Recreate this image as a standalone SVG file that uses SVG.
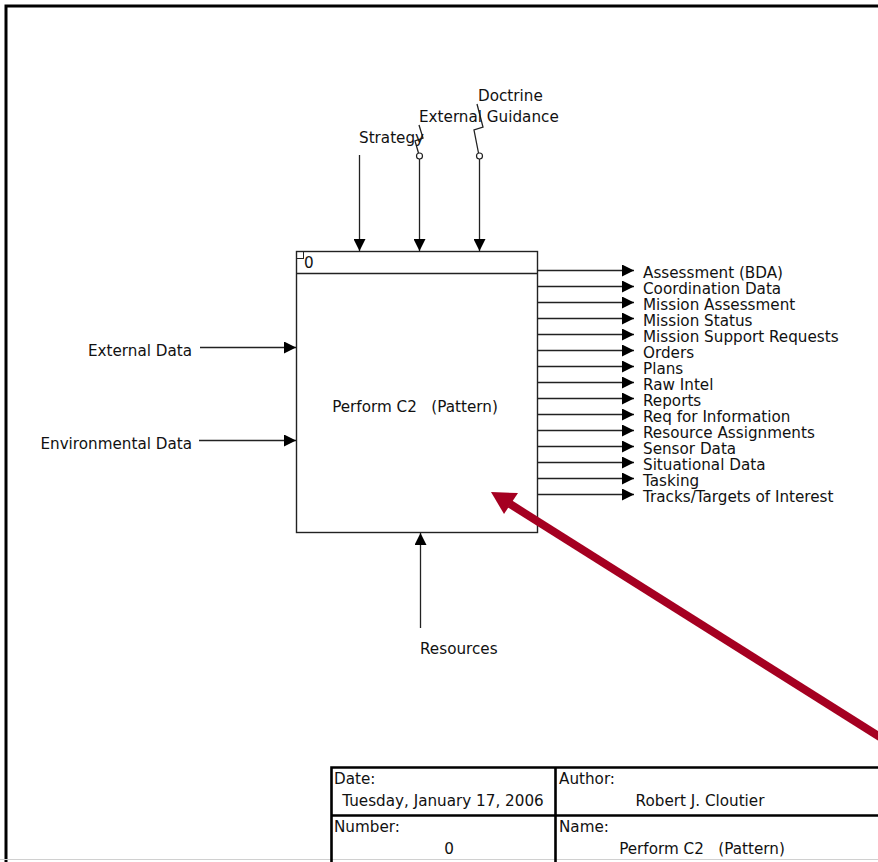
<svg xmlns="http://www.w3.org/2000/svg" width="878" height="862" viewBox="0 0 878 862">
  <defs>
    <style>
      text { font-family: "DejaVu Sans", Verdana, sans-serif; font-size: 15.2px; fill: #111; white-space: pre; }
      .ln { stroke: #222; stroke-width: 1.3; fill: none; }
      .frame { stroke: #000; stroke-width: 3; fill: none; }
      .tb { stroke: #000; stroke-width: 2.6; fill: none; }
      .head { fill: #000; }
    </style>
    <marker id="ah" viewBox="0 0 12 12" refX="12" refY="6" markerWidth="12" markerHeight="12" markerUnits="userSpaceOnUse" orient="auto">
      <path d="M0,0 L12,6 L0,12 Z" class="head"/>
    </marker>
  </defs>

  <rect width="878" height="862" fill="#fff"/>

  <!-- sheet frame -->
  <path class="frame" d="M6,862 V6 H878"/>
  <line x1="0" y1="859.5" x2="878" y2="859.5" stroke="#d0d0d0" stroke-width="1"/>

  <!-- activity box A0 -->
  <g id="node-A0">
    <rect x="296.5" y="251.5" width="241" height="281" fill="#fff" stroke="#222" stroke-width="1.4"/>
    <line x1="296.5" y1="273.5" x2="537.5" y2="273.5" stroke="#222" stroke-width="1.4"/>
    <rect x="296.5" y="251.5" width="7" height="7" fill="none" stroke="#222" stroke-width="1"/>
    <text x="304" y="268">0</text>
    <text x="415" y="412" text-anchor="middle">Perform C2   (Pattern)</text>
  </g>

  <!-- ICOM connectors -->
  <g id="connectors">
    <!-- controls -->
    <line class="ln" x1="359.5" y1="155" x2="359.5" y2="251" marker-end="url(#ah)"/>
    <line class="ln" x1="419.5" y1="159" x2="419.5" y2="251" marker-end="url(#ah)"/>
    <circle cx="419.5" cy="156" r="3" fill="#fff" stroke="#222" stroke-width="1.2"/>
    <polyline class="ln" points="418.5,153 415,141 423,138 419,125"/>
    <line class="ln" x1="479.5" y1="159" x2="479.5" y2="251" marker-end="url(#ah)"/>
    <circle cx="479.5" cy="156" r="3" fill="#fff" stroke="#222" stroke-width="1.2"/>
    <polyline class="ln" points="478.5,153 474,130 483,127 477,104"/>

    <!-- inputs -->
    <line class="ln" x1="200" y1="347.5" x2="296" y2="347.5" marker-end="url(#ah)"/>
    <line class="ln" x1="199" y1="440.5" x2="296" y2="440.5" marker-end="url(#ah)"/>

    <!-- mechanism -->
    <line class="ln" x1="420.5" y1="628" x2="420.5" y2="533" marker-end="url(#ah)"/>

    <!-- outputs -->
    <g>
      <line class="ln" x1="538" y1="270.5" x2="634" y2="270.5" marker-end="url(#ah)"/>
      <line class="ln" x1="538" y1="286.5" x2="634" y2="286.5" marker-end="url(#ah)"/>
      <line class="ln" x1="538" y1="302.5" x2="634" y2="302.5" marker-end="url(#ah)"/>
      <line class="ln" x1="538" y1="318.5" x2="634" y2="318.5" marker-end="url(#ah)"/>
      <line class="ln" x1="538" y1="334.5" x2="634" y2="334.5" marker-end="url(#ah)"/>
      <line class="ln" x1="538" y1="350.5" x2="634" y2="350.5" marker-end="url(#ah)"/>
      <line class="ln" x1="538" y1="366.5" x2="634" y2="366.5" marker-end="url(#ah)"/>
      <line class="ln" x1="538" y1="382.5" x2="634" y2="382.5" marker-end="url(#ah)"/>
      <line class="ln" x1="538" y1="398.5" x2="634" y2="398.5" marker-end="url(#ah)"/>
      <line class="ln" x1="538" y1="414.5" x2="634" y2="414.5" marker-end="url(#ah)"/>
      <line class="ln" x1="538" y1="430.5" x2="634" y2="430.5" marker-end="url(#ah)"/>
      <line class="ln" x1="538" y1="446.5" x2="634" y2="446.5" marker-end="url(#ah)"/>
      <line class="ln" x1="538" y1="462.5" x2="634" y2="462.5" marker-end="url(#ah)"/>
      <line class="ln" x1="538" y1="478.5" x2="634" y2="478.5" marker-end="url(#ah)"/>
      <line class="ln" x1="538" y1="494.5" x2="634" y2="494.5" marker-end="url(#ah)"/>
    </g>
  </g>

  <!-- arrow labels -->
  <g id="labels">
    <text x="359" y="143">Strategy</text>
    <text x="419" y="122">External Guidance</text>
    <text x="478" y="101">Doctrine</text>
    <text x="192" y="356" text-anchor="end">External Data</text>
    <text x="192" y="449" text-anchor="end">Environmental Data</text>
    <text x="420" y="654">Resources</text>
    <text x="643" y="278">Assessment (BDA)</text>
    <text x="643" y="294">Coordination Data</text>
    <text x="643" y="310">Mission Assessment</text>
    <text x="643" y="326">Mission Status</text>
    <text x="643" y="342">Mission Support Requests</text>
    <text x="643" y="358">Orders</text>
    <text x="643" y="374">Plans</text>
    <text x="643" y="390">Raw Intel</text>
    <text x="643" y="406">Reports</text>
    <text x="643" y="422">Req for Information</text>
    <text x="643" y="438">Resource Assignments</text>
    <text x="643" y="454">Sensor Data</text>
    <text x="643" y="470">Situational Data</text>
    <text x="643" y="486">Tasking</text>
    <text x="643" y="502">Tracks/Targets of Interest</text>
  </g>

  <!-- callout pointer -->
  <g id="callout">
    <line x1="880" y1="737" x2="510" y2="504" stroke="#A50021" stroke-width="8"/>
    <polygon points="491,492 518,493 504,514" fill="#A50021"/>
  </g>

  <!-- title block -->
  <g id="title-block">
    <path class="tb" d="M331.5,862 V767.5 H878 M555.5,767.5 V862 M331.5,815.5 H878"/>
    <text x="334" y="784">Date:</text>
    <text x="443" y="806" text-anchor="middle">Tuesday, January 17, 2006</text>
    <text x="334" y="832">Number:</text>
    <text x="449" y="854" text-anchor="middle">0</text>
    <text x="559" y="784">Author:</text>
    <text x="700" y="806" text-anchor="middle">Robert J. Cloutier</text>
    <text x="559" y="832">Name:</text>
    <text x="702" y="854" text-anchor="middle">Perform C2   (Pattern)</text>
  </g>
</svg>
